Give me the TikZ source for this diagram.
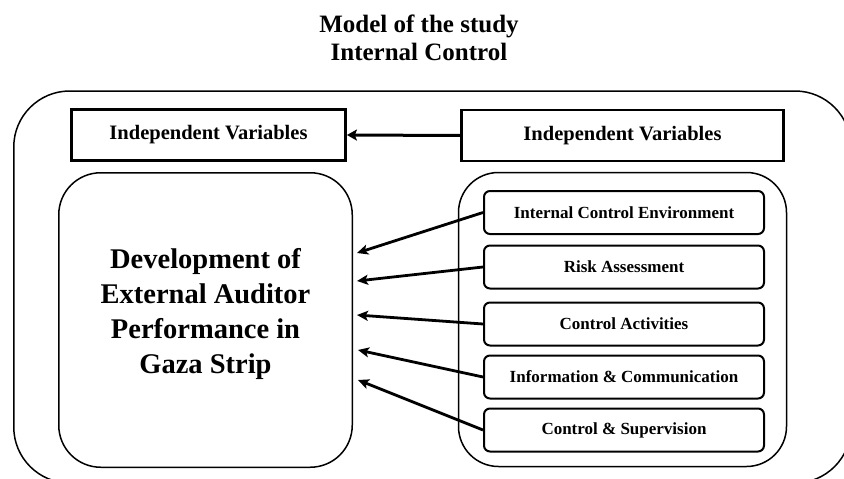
\documentclass[tikz,border=0pt]{standalone}
\usepackage{fontspec}
\setmainfont{Liberation Serif}
\usetikzlibrary{arrows.meta,calc}
\begin{document}
\begin{tikzpicture}[x=1pt,y=-1pt,
  headbox/.style={draw,line width=2.8pt,minimum height=51pt,inner sep=0pt,
    font=\bfseries\fontsize{20.5}{23}\selectfont},
  bigbox/.style={draw,line width=1.5pt,rounded corners=42pt,inner sep=0pt},
  itembox/.style={draw,line width=2pt,rounded corners=6pt,minimum width=280pt,
    minimum height=43pt,inner sep=0pt,font=\bfseries\fontsize{17}{19}\selectfont},
  link/.style={line width=2.8pt,-{Stealth[length=11pt,width=10pt,inset=2.5pt]}}]
\useasboundingbox (0,0) rectangle (844,479);
\clip (0,0) rectangle (844,479);
% outer frame
\draw[line width=1.5pt,rounded corners=56pt] (13.75,91) rectangle (851,483);
% title
\node[align=center,font=\bfseries\fontsize{25}{28}\selectfont] (title) at (419,37.5)
  {Model of the study\\Internal Control};
% header boxes
\node[headbox,minimum width=274pt] (tl) at (208.5,135) {Independent Variables};
\node[headbox,minimum width=322pt] (tr) at (622.5,135.5) {Independent Variables};
\draw[line width=3pt,-{Stealth[length=10pt,width=11pt,inset=2pt]}] (tr.west) -- (tl.east);
% big boxes
\node[bigbox,minimum width=293.5pt,minimum height=294.5pt] (dev) at (205.5,320) {};
\node[align=center,font=\bfseries\fontsize{28.5}{35}\selectfont] (devtext) at (205.5,313.5)
  {Development of\\External Auditor\\Performance in\\Gaza Strip};
\node[bigbox,rounded corners=40pt,minimum width=328pt,minimum height=294pt] (grp) at (622.5,319.5) {};
% items
\node[itembox] (b1) at (624,212.5) {Internal Control Environment};
\node[itembox] (b2) at (624,267) {Risk Assessment};
\node[itembox] (b3) at (624,324) {Control Activities};
\node[itembox] (b4) at (624,377) {Information \& Communication};
\node[itembox] (b5) at (624,430) {Control \& Supervision};
% arrow tips
\coordinate (t1) at (357,253);
\coordinate (t2) at (357,281);
\coordinate (t3) at (357,315);
\coordinate (t4) at (358,350);
\coordinate (t5) at (358,380);
\draw[link] (b1.west) -- (t1);
\draw[link] (b2.west) -- (t2);
\draw[link] (b3.west) -- (t3);
\draw[link] (b4.west) -- (t4);
\draw[link] (b5.west) -- (t5);
\end{tikzpicture}
\end{document}
